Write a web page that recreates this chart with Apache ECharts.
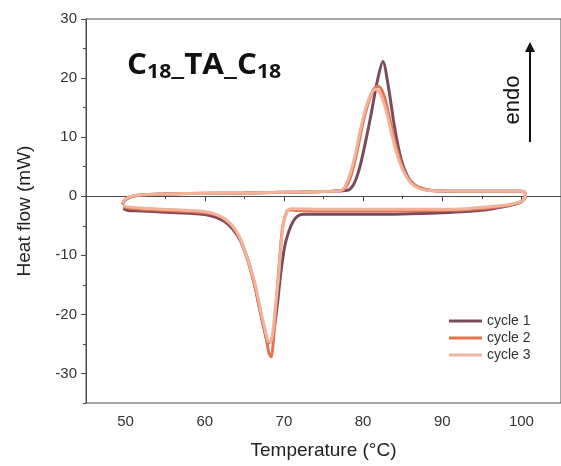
<!DOCTYPE html>
<html>
<head>
<meta charset="utf-8">
<script src="https://cdn.jsdelivr.net/npm/echarts@6/dist/echarts.min.js"></script>
<style>
html,body{margin:0;padding:0;background:#fff;}
#chart{width:561px;height:466px;}
</style>
</head>
<body>
<div id="chart"></div>
<script>
// ---- data (Temperature °C, Heat flow mW), in measurement order: heating then cooling ----
const seriesNames = ['cycle 1', 'cycle 2', 'cycle 3'];
const cycle1 = [
  [49.6,-1.4],[49.9,-0.7],[50.5,-0.2],[51.5,0.1],[53,0.3],[58,0.45],[65,0.55],[72,0.7],[76,0.85],[78,1.0],
  [78.8,2.0],[79.5,4.5],[80.2,8.5],[81,13.8],[81.8,19.5],[82.5,22.8],[83.2,18.5],[84,11.5],[84.8,6.3],[85.6,3.4],
  [86.5,1.9],[88,1.1],[90,0.9],[95,0.85],[100,0.85],[100.5,0.4],[100.4,-0.4],[99.8,-1.1],[98,-1.7],[96,-2.2],
  [93,-2.6],[90,-2.8],[85,-3.0],[80,-3.05],[75,-3.05],[72.5,-3.05],[71.8,-3.3],[71.2,-4.2],[70.6,-6.0],[70.1,-8.5],
  [69.6,-13],[69.2,-18],[68.8,-22],[68.4,-24.5],[68.0,-24.8],[67.6,-23],[67,-19.5],[66.3,-15],[65.5,-11],[64.5,-7.5],
  [63.5,-5.5],[62.5,-4.3],[61.5,-3.6],[60,-3.1],[58,-2.9],[55,-2.7],[52,-2.5],[50.3,-2.4],[49.7,-2.1]
];
const cycle2 = [
  [49.6,-1.3],[49.9,-0.6],[50.5,-0.1],[51.5,0.15],[53,0.3],[58,0.45],[65,0.55],[72,0.7],[76,0.85],[77.2,0.95],
  [77.9,1.7],[78.6,4.0],[79.3,8.0],[80,12.5],[80.7,16],[81.3,18],[81.9,18.6],[82.6,17.2],[83.3,13.5],[84.1,8.8],
  [84.9,5.2],[85.8,2.8],[87,1.5],[88.5,1.0],[90,0.9],[95,0.85],[100,0.85],[100.5,0.4],[100.4,-0.4],[99.8,-1.0],
  [98,-1.6],[96,-2.0],[93,-2.3],[90,-2.4],[85,-2.5],[80,-2.5],[75,-2.5],[71.5,-2.4],[70.6,-2.3],[70.2,-3.2],
  [69.8,-5.5],[69.5,-10],[69.2,-15],[68.9,-20.5],[68.6,-25.5],[68.4,-27.2],[68.1,-26.5],[67.7,-23.5],[67,-19.3],[66.3,-15],
  [65.5,-11.2],[64.5,-7.3],[63.5,-5.1],[62.5,-3.9],[61.5,-3.2],[60,-2.8],[58,-2.6],[55,-2.4],[52,-2.2],[50.3,-2.0],[49.7,-1.8]
];
const cycle3 = [
  [49.6,-1.2],[49.9,-0.6],[50.5,-0.1],[51.5,0.15],[53,0.3],[58,0.45],[65,0.55],[72,0.7],[76,0.85],[77,0.9],
  [77.6,1.4],[78.3,3.5],[79,7.0],[79.7,11.5],[80.4,15.2],[81,17.3],[81.6,18.1],[82.3,17],[83,14],[83.8,9.5],
  [84.6,5.8],[85.5,3.2],[86.5,1.7],[88,1.0],[90,0.9],[95,0.85],[100,0.85],[100.5,0.4],[100.4,-0.4],[99.8,-1.0],
  [98,-1.5],[96,-1.8],[93,-2.1],[90,-2.2],[85,-2.2],[80,-2.2],[75,-2.2],[71.5,-2.1],[70.8,-2.1],[70.3,-3.0],
  [69.9,-5.0],[69.6,-9],[69.3,-14],[68.9,-19],[68.6,-23],[68.3,-24.7],[68.0,-24.5],[67.6,-22.5],[67,-19],[66.3,-14.5],
  [65.5,-11],[64.5,-7.2],[63.5,-5.0],[62.5,-3.8],[61.5,-3.1],[60,-2.6],[58,-2.4],[55,-2.2],[52,-2.0],[50.3,-1.8],[49.7,-1.6]
];
const xMajorTicks = [50, 60, 70, 80, 90, 100];
const xMinorTicks = [45, 55, 65, 75, 85, 95, 105];
const yMajorTicks = [-30, -20, -10, 0, 10, 20, 30];
const yMinorTicks = [-35, -25, -15, -5, 5, 15, 25];
const colors = ['#7a4c59', '#e6724f', '#f2b39b'];
const allData = [cycle1, cycle2, cycle3];

const chart = echarts.init(document.getElementById('chart'), null, {renderer: 'canvas'});
const FONT = '"Liberation Sans", Arial, sans-serif';
const axisColor = '#4a4a4a';

const option = {
  backgroundColor: '#fff',
  animation: false,
  grid: {left: 86, top: 19, width: 480, height: 384, show: true, borderColor: axisColor, borderWidth: 1, backgroundColor: 'transparent'},
  legend: {
    data: seriesNames,
    orient: 'vertical',
    left: 449, top: 314,
    icon: 'rect', itemWidth: 33, itemHeight: 3, itemGap: 3,
    textStyle: {fontFamily: FONT, fontSize: 14, color: '#333', lineHeight: 14, padding: [0,0,0,0]},
    padding: 0
  },
  xAxis: [{
    type: 'value', min: 45, max: 105,
    name: 'Temperature (°C)', nameLocation: 'middle', nameGap: 38,
    nameTextStyle: {fontFamily: FONT, fontSize: 19, color: '#222'},
    axisLine: {show: true, lineStyle: {color: axisColor, width: 1}},
    axisTick: {show: true, customValues: xMajorTicks, length: 5, lineStyle: {color: axisColor}},
    axisLabel: {customValues: xMajorTicks, fontFamily: FONT, fontSize: 15, color: '#333', margin: 11},
    splitLine: {show: false}
  }, {
    type: 'value', min: 45, max: 105, position: 'bottom', gridIndex: 0,
    axisLine: {show: false},
    axisTick: {show: true, customValues: xMinorTicks, length: 3, lineStyle: {color: axisColor}},
    axisLabel: {show: false}, splitLine: {show: false}
  }],
  yAxis: [{
    type: 'value', min: -35, max: 30,
    name: 'Heat flow (mW)', nameLocation: 'middle', nameGap: 52,
    nameTextStyle: {fontFamily: FONT, fontSize: 19, color: '#222'},
    axisLine: {show: true, lineStyle: {color: axisColor, width: 1}},
    axisTick: {show: true, customValues: yMajorTicks, length: 5, lineStyle: {color: axisColor}},
    axisLabel: {customValues: yMajorTicks, fontFamily: FONT, fontSize: 15, color: '#333', margin: 9},
    splitLine: {show: false}
  }, {
    type: 'value', min: -35, max: 30, position: 'left', gridIndex: 0,
    axisLine: {show: false},
    axisTick: {show: true, customValues: yMinorTicks, length: 3, lineStyle: {color: axisColor}},
    axisLabel: {show: false}, splitLine: {show: false}
  }],
  series: allData.map((d, i) => ({
    name: seriesNames[i], type: 'line', data: d,
    xAxisIndex: 0, yAxisIndex: 0,
    showSymbol: false, symbol: 'none', smooth: 0.3,
    lineStyle: {color: colors[i], width: 3},
    itemStyle: {color: colors[i]}
  })),
  graphic: [
    {
      type: 'text', x: 127, y: 50, scaleX: 1.12, z: 10,
      style: {
        text: 'C{s|18}_TA_C{s|18}',
        font: 'bold 28px "Open Sans", sans-serif',
        fill: '#111',
        lineHeight: 32,
        verticalAlign: 'top',
        rich: {
          s: {font: 'bold 19px "Open Sans", sans-serif', fill: '#111', lineHeight: 12, verticalAlign: 'bottom'}
        }
      }
    },
    {
      type: 'text', x: 513, y: 100, rotation: Math.PI / 2, z: 10,
      style: {text: 'endo', font: '22px "Liberation Sans", Arial, sans-serif', fill: '#111', align: 'center', verticalAlign: 'middle'}
    },
    {
      type: 'line', z: 10,
      shape: {x1: 530, y1: 142, x2: 530, y2: 50},
      style: {stroke: '#111', lineWidth: 2}
    },
    {
      type: 'polygon', z: 10,
      shape: {points: [[530, 42], [525, 52], [535, 52]]},
      style: {fill: '#111'}
    }
  ]
};
chart.setOption(option);
</script>
</body>
</html>
